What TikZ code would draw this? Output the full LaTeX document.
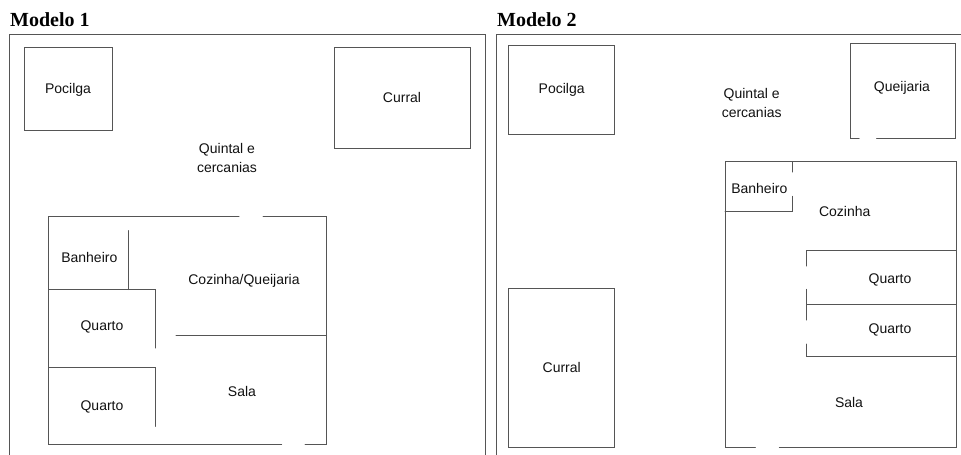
\documentclass[tikz,border=0pt]{standalone}
\usepackage{fontspec}
\setmainfont{Liberation Sans}
\newfontfamily\titlefont{Liberation Serif}

\definecolor{wallgray}{HTML}{555555}
\definecolor{labelgray}{HTML}{111111}

\tikzset{
  wall/.style={draw=wallgray, line width=1pt, line cap=round},
  room/.style={text=labelgray, inner sep=0pt, align=center, font=\fontsize{14}{19}\selectfont},
  modelo/.style={anchor=base west, inner sep=0pt, font=\titlefont\bfseries\fontsize{20}{24}\selectfont}
}

\begin{document}
\begin{tikzpicture}[x=1pt, y=-1pt]
\useasboundingbox (0,0) rectangle (961,455);

% Titles
\node[modelo] (titleone) at (10,27) {Modelo 1};
\node[modelo] (titletwo) at (497,27) {Modelo 2};

% Modelo 1: frame
\draw[wall] (9,455) -- (9,34) -- (485,34) -- (485,455);

% Modelo 1: outbuildings
\draw[wall] (24.5,47.5) rectangle (112,130);
\draw[wall] (334,47.5) rectangle (470,148);
\node[room] (pocilgaone) at (68,90) {Pocilga};
\node[room] (curralone) at (402,97.7) {Curral};
\node[room] (quintalone) at (227,157.5) {Quintal e\\cercanias};

% Modelo 1: house outline, door gaps top and bottom
\draw[wall] (239,216.5) -- (48.5,216.5) -- (48.5,444.5) -- (281.7,444.5);
\draw[wall] (263,216.5) -- (326.5,216.5) -- (326.5,444.5) -- (305,444.5);

% Modelo 1: inner walls
\draw[wall] (128,230.7) -- (128,289.5);
\draw[wall] (48.5,289.5) -- (155.5,289.5) -- (155.5,348);
\draw[wall] (48.5,367.5) -- (155.5,367.5) -- (155.5,426.3);
\draw[wall] (176,335.5) -- (326.5,335.5);

% Modelo 1: rooms
\node[room] (banheiroone) at (89.3,257) {Banheiro};
\node[room] (cozinhaone) at (244,281) {Cozinha/Queijaria};
\node[room] (quartoonea) at (102,326.5) {Quarto};
\node[room] (quartooneb) at (102,406.5) {Quarto};
\node[room] (salaone) at (242,391) {Sala};

% Modelo 2: frame
\draw[wall] (496,455) -- (496,34) -- (961,34);

% Modelo 2: outbuildings
\draw[wall] (508,45.5) rectangle (614.5,134.5);
\draw[wall] (508.5,288.5) rectangle (614.5,447.5);
\draw[wall] (859,138) -- (850,138) -- (850,43) -- (955.5,43) -- (955.5,138) -- (876.7,138);
\node[room] (pocilgatwo) at (561.7,90) {Pocilga};
\node[room] (curraltwo) at (561.7,367.3) {Curral};
\node[room] (queijariatwo) at (902,87.5) {Queijaria};
\node[room] (quintaltwo) at (751.7,103) {Quintal e\\cercanias};

% Modelo 2: house outline, door gap at the bottom
\draw[wall] (755.3,447.5) -- (725,447.5) -- (725,161.5) -- (956,161.5) -- (956,447.5) -- (779.3,447.5);

% Modelo 2: inner walls
\draw[wall] (792,161.5) -- (792,172);
\draw[wall] (792,196.3) -- (792,211) -- (725,211);
\draw[wall] (806.5,266) -- (806.5,250) -- (956,250);
\draw[wall] (806.5,289.3) -- (806.5,320);
\draw[wall] (806.5,304.5) -- (956,304.5);
\draw[wall] (806.5,344) -- (806.5,356.5) -- (956,356.5);

% Modelo 2: rooms
\node[room] (banheirotwo) at (759.3,188) {Banheiro};
\node[room] (cozinhatwo) at (844.7,211) {Cozinha};
\node[room] (quartotwoa) at (890,280) {Quarto};
\node[room] (quartotwob) at (890,330) {Quarto};
\node[room] (salatwo) at (849,402) {Sala};

\end{tikzpicture}
\end{document}
